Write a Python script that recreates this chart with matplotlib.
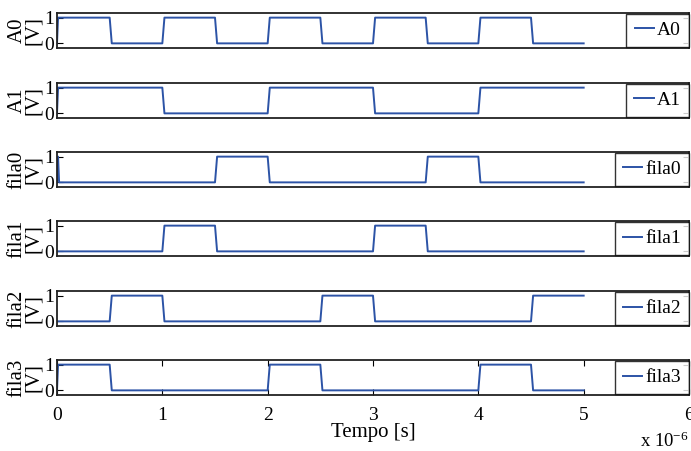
import matplotlib
matplotlib.use("Agg")
import matplotlib.pyplot as plt

plt.rcParams['font.family'] = ['Liberation Serif', 'DejaVu Serif']
plt.rcParams['mathtext.fontset'] = 'custom'
plt.rcParams['mathtext.rm'] = 'Liberation Serif'
plt.rcParams['mathtext.it'] = 'Liberation Serif:italic'

# time in microseconds, values in volts
names = ["A0", "A1", "fila0", "fila1", "fila2", "fila3"]
A0_t = [0, 0.01, 0.5, 0.52, 1.0, 1.02, 1.5, 1.52, 2.0, 2.02, 2.5, 2.52, 3.0, 3.02, 3.5, 3.52, 4.0, 4.02, 4.5, 4.52, 5.0]
A0_v = [0, 1, 1, 0, 0, 1, 1, 0, 0, 1, 1, 0, 0, 1, 1, 0, 0, 1, 1, 0, 0]
A1_t = [0, 0.01, 1.0, 1.02, 2.0, 2.02, 3.0, 3.02, 4.0, 4.02, 5.0]
A1_v = [0, 1, 1, 0, 0, 1, 1, 0, 0, 1, 1]
fila0_t = [0, 0.01, 0.02, 1.5, 1.52, 2.0, 2.02, 3.5, 3.52, 4.0, 4.02, 5.0]
fila0_v = [0, 1, 0, 0, 1, 1, 0, 0, 1, 1, 0, 0]
fila1_t = [0, 1.0, 1.02, 1.5, 1.52, 3.0, 3.02, 3.5, 3.52, 5.0]
fila1_v = [0, 0, 1, 1, 0, 0, 1, 1, 0, 0]
fila2_t = [0, 0.5, 0.52, 1.0, 1.02, 2.5, 2.52, 3.0, 3.02, 4.5, 4.52, 5.0]
fila2_v = [0, 0, 1, 1, 0, 0, 1, 1, 0, 0, 1, 1]
fila3_t = [0, 0.01, 0.5, 0.52, 2.0, 2.02, 2.5, 2.52, 4.0, 4.02, 4.5, 4.52, 5.0]
fila3_v = [0, 1, 1, 0, 0, 1, 1, 0, 0, 1, 1, 0, 0]
series_t = [A0_t, A1_t, fila0_t, fila1_t, fila2_t, fila3_t]
series_v = [A0_v, A1_v, fila0_v, fila1_v, fila2_v, fila3_v]
x_ticks = [0, 1, 2, 3, 4, 5, 6]
y_ticks = [0, 1]

W, H = 691, 451
fig = plt.figure(figsize=(W / 100, H / 100), dpi=100)
tops = [13, 83, 152, 221, 291, 360]
ax_h = 35
left, right = 57, 689
color = '#2c53a6'
axes = []
for i, (name, t, v) in enumerate(zip(names, series_t, series_v)):
    top = tops[i]
    ax = fig.add_axes([left / W, 1 - (top + ax_h) / H, (right - left) / W, ax_h / H])
    ax.plot(t, v, color=color, lw=1.4, label=name)
    ax.set_xlim(0, 6)
    ax.set_ylim(-0.18, 1.18)
    ax.set_yticks(y_ticks)
    ax.tick_params(direction='in', length=4, labelsize=14, pad=2, right=True, top=True)
    if i < 5:
        ax.set_xticks([])
    else:
        ax.set_xticks(x_ticks)
        ax.set_xticklabels([str(x) for x in x_ticks])
        ax.tick_params(axis='x', pad=9)
    for s in ax.spines.values():
        s.set_linewidth(1.3)
        s.set_color('#222222')
    ax.set_ylabel(name + "\n[V]", fontsize=15, labelpad=1, linespacing=0.8)
    leg = ax.legend(loc='center right', fontsize=14, frameon=True, fancybox=False,
                    handlelength=1.0, handletextpad=0.15, borderpad=0.42,
                    borderaxespad=0.0, bbox_to_anchor=(1.0, 0.5))
    leg.get_frame().set_edgecolor('black')
    leg.get_frame().set_linewidth(1.0)
    axes.append(ax)

axes[-1].set_xlabel("Tempo [s]", fontsize=15, labelpad=-1)
fig.text(689 / W, 1 - 441 / H, r"x 10$^{-6}$", fontsize=13.5, ha='right', va='center')

fig.savefig("out.png", dpi=100)
